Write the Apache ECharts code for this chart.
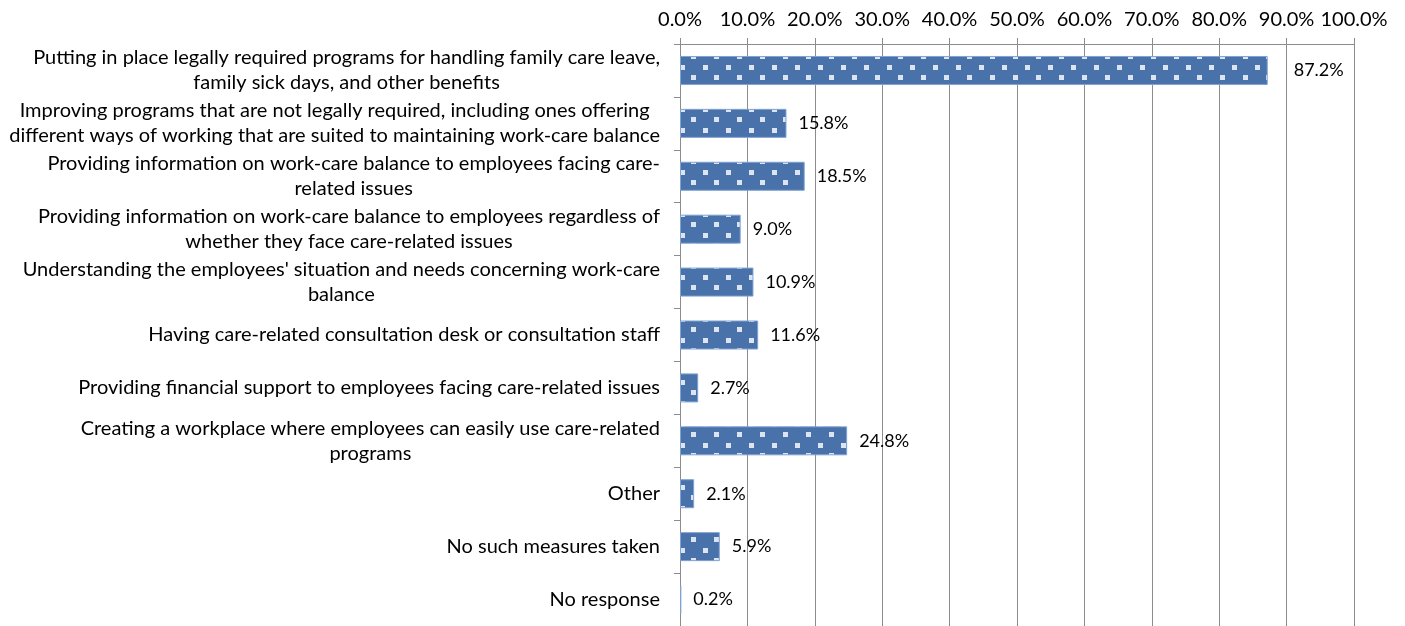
<!DOCTYPE html>
<html>
<head>
<meta charset="utf-8">
<script src="https://cdn.jsdelivr.net/npm/echarts@6/dist/echarts.min.js"></script>
<style>
html,body{margin:0;padding:0;background:#fff;}
#main{width:1405px;height:626px;}
</style>
</head>
<body>
<div id="main"></div>
<script>
// categories, top to bottom
var categories = [
	'Putting in place legally required programs for handling family care leave,\nfamily sick days, and other benefits',
	'Improving programs that are not legally required, including ones offering\ndifferent ways of working that are suited to maintaining work-care balance',
	'Providing information on work-care balance to employees facing care-\nrelated issues',
	'Providing information on work-care balance to employees regardless of\nwhether they face care-related issues',
	"Understanding the employees' situation and needs concerning work-care\nbalance",
	'Having care-related consultation desk or consultation staff',
	'Providing financial support to employees facing care-related issues',
	'Creating a workplace where employees can easily use care-related\nprograms',
	'Other',
	'No such measures taken',
	'No response'
];
var values = [87.2, 15.8, 18.5, 9.0, 10.9, 11.6, 2.7, 24.8, 2.1, 5.9, 0.2];
var axisMin = 0, axisMax = 100, axisStep = 10;

var FONT = 'Lato';

// dotted fill like the office "small confetti" pattern
function makeTile(){
	var c = document.createElement('canvas');
	c.width = 23; c.height = 21;
	var g = c.getContext('2d');
	g.fillStyle = '#4872a9';
	g.fillRect(0, 0, 23, 21);
	g.fillStyle = '#dbe4f0';
	g.fillRect(13, 2, 5, 5);
	g.fillRect(1, 12, 5, 5);
	return c;
}
var tile = makeTile();

var chart = echarts.init(document.getElementById('main'));

var seriesData = values.map(function(v, i){
	var item = {value: v};
	if(i == 0){
		item.label = {distance: 26};
	}
	return item;
});

var option = {
	animation: false,
	grid: {left: 680, right: 51, top: 44, bottom: 0, containLabel: false},
	xAxis: {
		type: 'value',
		position: 'top',
		min: axisMin,
		max: axisMax,
		interval: axisStep,
		axisLine: {show: true, lineStyle: {color: '#8c8c8c', width: 1}},
		axisTick: {show: true, length: 6, lineStyle: {color: '#8c8c8c'}},
		splitLine: {show: true, lineStyle: {color: '#8c8c8c', width: 1}},
		axisLabel: {
			margin: 14,
			fontFamily: FONT,
			fontSize: 20,
			color: '#000',
			formatter: function(v){ return v.toFixed(1) + '%'; }
		}
	},
	yAxis: {
		type: 'category',
		inverse: true,
		data: categories,
		axisLine: {show: true, lineStyle: {color: '#8c8c8c', width: 1}},
		axisTick: {show: true, length: 6, lineStyle: {color: '#8c8c8c'}},
		axisLabel: {
			margin: 20,
			fontFamily: FONT,
			fontSize: 20,
			color: '#000',
			lineHeight: 25,
			formatter: function(v){
				return v.split('\n').map(function(s){ return '{c|' + s + '}'; }).join('\n');
			},
			rich: {
				c: {align: 'center', fontFamily: FONT, fontSize: 20, lineHeight: 25, color: '#000'}
			}
		}
	},
	series: [{
		type: 'bar',
		data: seriesData,
		barWidth: 29,
		itemStyle: {
			color: {image: tile, repeat: 'repeat'},
			borderColor: '#7fa2d2',
			borderWidth: 1
		},
		label: {
			show: true,
			position: 'right',
			distance: 12,
			fontFamily: FONT,
			fontSize: 18,
			color: '#000',
			formatter: function(p){ return p.value.toFixed(1) + '%'; }
		}
	}]
};
chart.setOption(option);
</script>
</body>
</html>
